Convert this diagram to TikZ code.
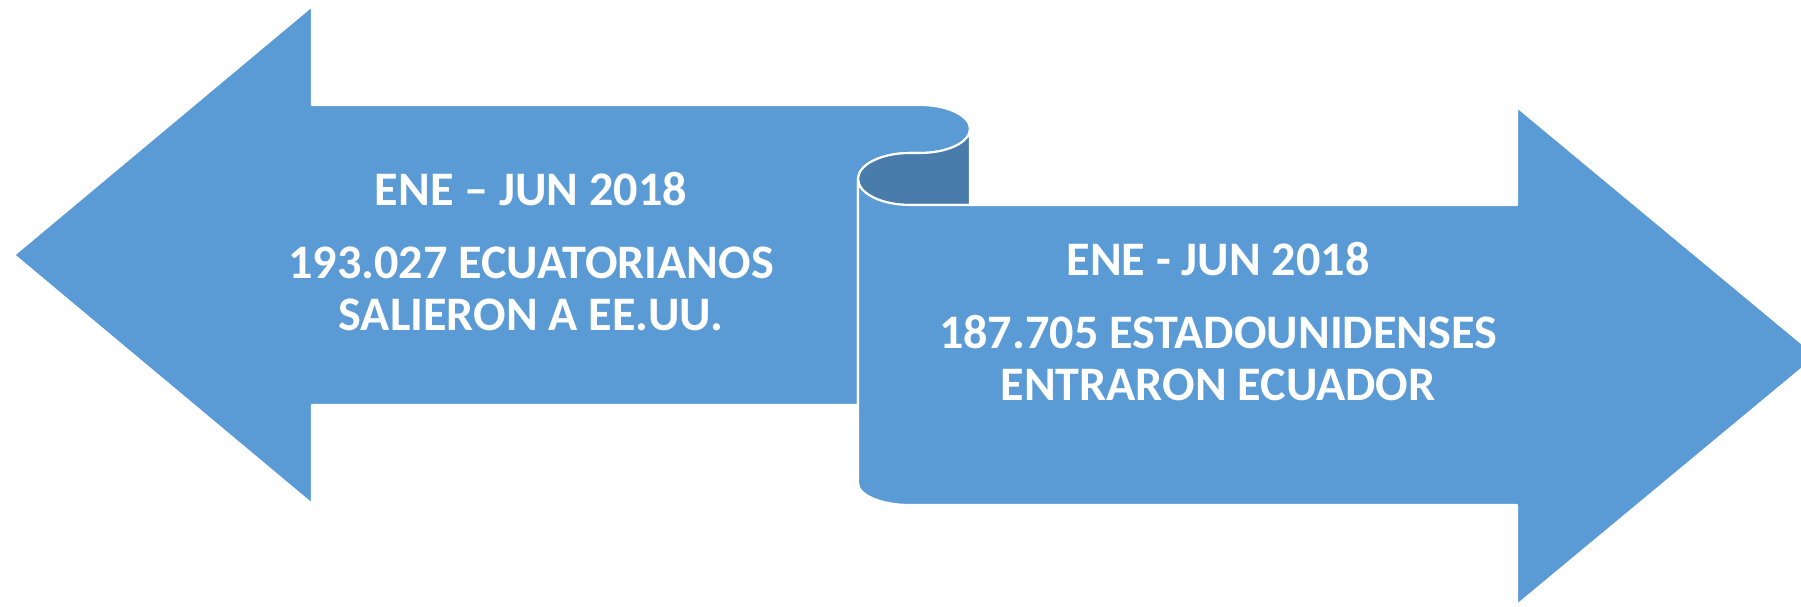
\documentclass[tikz,border=0pt]{standalone}
\usepackage{fontspec}
\setmainfont{Carlito}
\definecolor{arrowblue}{HTML}{5B9BD5}
\definecolor{foldblue}{HTML}{497CAB}
\begin{document}
\begin{tikzpicture}[x=0.01cm, y=-0.01cm]

    \tikzset{%
    every arrow/.style={
        fill=arrowblue,
        draw=white,
        line width=0.6pt,
        line join=round
        },
    scroll back/.style={
        fill=foldblue,
        draw=white,
        line width=0.6pt
        },
    label text/.style={
        text=white,
        font=\fontsize{13.7}{16}\selectfont\bfseries,
        anchor=base,
        inner sep=0pt
        },
    }

    \useasboundingbox (0,0) rectangle (1801,606);

    % Left arrow with the curled top end
    \path [every arrow] (14,255) -- (312,6) -- (312,105) -- (920,105)
        arc [start angle=-90, end angle=90, x radius=50, y radius=24]
        -- (910,153)
        arc [start angle=270, end angle=180, x radius=52, y radius=26]
        -- (858,405) -- (312,405) -- (312,504) -- cycle;

    % Back side of the scroll
    \path [scroll back] (970,129)
        arc [start angle=0, end angle=90, x radius=50, y radius=24]
        -- (910,153)
        arc [start angle=270, end angle=90, x radius=52, y radius=26]
        -- (970,205) -- cycle;

    % Right arrow
    \path [every arrow] (858,179) -- (858,483)
        arc [start angle=180, end angle=90, x radius=52, y radius=22]
        -- (1517,505) -- (1517,605) -- (1817,356) -- (1517,107) -- (1517,205)
        -- (910,205)
        arc [start angle=90, end angle=180, x radius=52, y radius=26]
        -- cycle;

    % Left arrow labels
    \foreach \l/\y [count=\i] in {ENE -- JUN 2018/205, 193.027 ECUATORIANOS/278, SALIERON A EE.UU./330}
    \node [label text] (left-\i) at (531,\y) {\l};

    % Right arrow labels
    \foreach \l/\y [count=\i] in {ENE - JUN 2018/275, 187.705 ESTADOUNIDENSES/348, ENTRARON ECUADOR/400}
    \node [label text] (right-\i) at (1218,\y) {\l};

\end{tikzpicture}
\end{document}
